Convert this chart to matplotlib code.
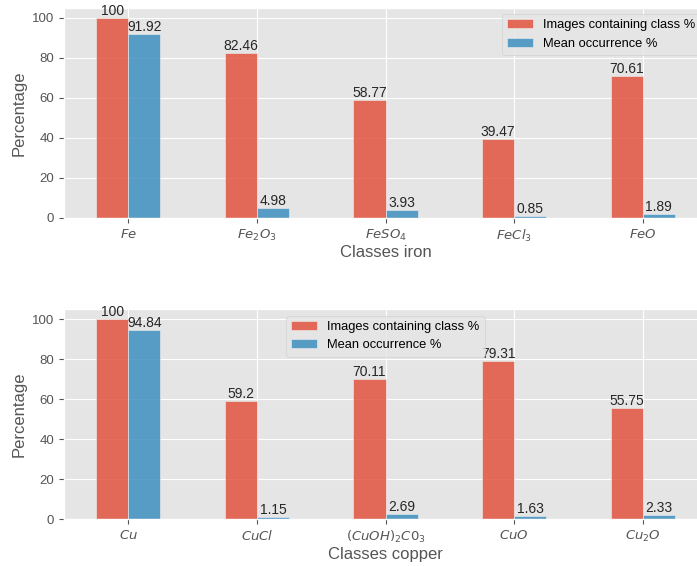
import matplotlib
matplotlib.use('Agg')
import matplotlib.pyplot as plt
import numpy as np

plt.style.use('ggplot')
plt.rcParams['font.family'] = ['Liberation Sans', 'DejaVu Sans']

iron_labels = ['$Fe$', '$Fe_2O_3$', '$FeSO_4$', '$FeCl_3$', '$FeO$']
iron_images = [100, 82.46, 58.77, 39.47, 70.61]
iron_mean = [91.92, 4.98, 3.93, 0.85, 1.89]

copper_labels = ['$Cu$', '$CuCl$', '$(CuOH)_2C0_3$', '$CuO$', '$Cu_2O$']
copper_images = [100, 59.2, 70.11, 79.31, 55.75]
copper_mean = [94.84, 1.15, 2.69, 1.63, 2.33]

legend_names = ['Images containing class %', 'Mean occurrence %']


def plot_panel(ax, labels, images, mean, xlabel, legend_loc):
    x = np.arange(len(labels))
    w = 0.25
    b1 = ax.bar(x - w / 2, images, w, color='#E24A33', alpha=0.8,
                edgecolor='#EEEEEE', linewidth=0.5, label=legend_names[0])
    b2 = ax.bar(x + w / 2, mean, w, color='#348ABD', alpha=0.8,
                edgecolor='#EEEEEE', linewidth=0.5, label=legend_names[1])
    for bars in (b1, b2):
        for rect in bars:
            h = rect.get_height()
            ax.text(rect.get_x() + rect.get_width() / 2, h, f'{h:g}',
                    ha='center', va='bottom', fontsize=10, color='#262626')
    ax.set_xticks(x)
    ax.set_xticklabels(labels, fontsize=9.5)
    ax.tick_params(axis='y', labelsize=9.5)
    ax.set_xlim(-0.5, len(labels) - 0.5)
    ax.set_ylim(0, 105)
    ax.set_ylabel('Percentage', fontsize=12)
    ax.set_xlabel(xlabel, fontsize=12, labelpad=1)
    ax.legend(loc=legend_loc, fontsize=9.3)


fig = plt.figure(figsize=(6.97, 5.66), dpi=100)
ax1 = fig.add_axes([64 / 697, 348 / 566, 643 / 697, 210.5 / 566])
ax2 = fig.add_axes([64 / 697, 46.7 / 566, 643 / 697, 210 / 566])

plot_panel(ax1, iron_labels, iron_images, iron_mean, 'Classes iron', 'upper right')
plot_panel(ax2, copper_labels, copper_images, copper_mean, 'Classes copper', 'upper center')

fig.savefig('out.png', dpi=100)
